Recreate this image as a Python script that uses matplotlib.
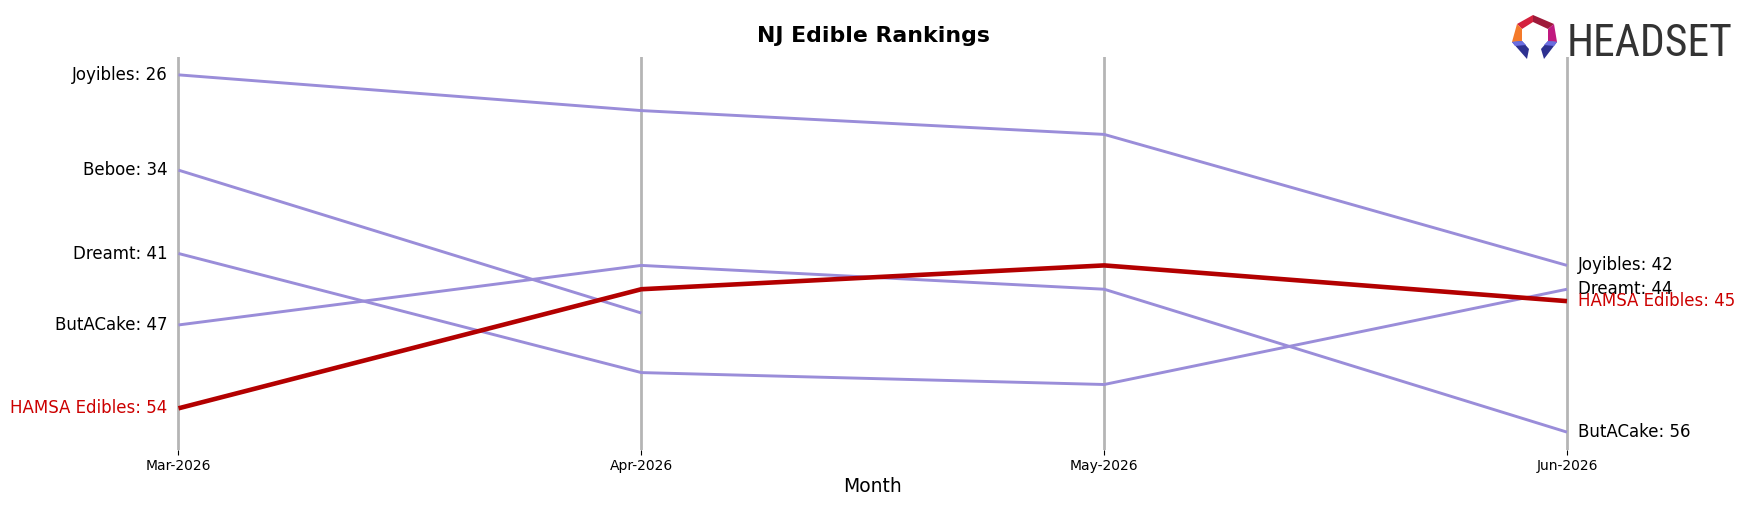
import numpy as np
import matplotlib
matplotlib.use("Agg")
import matplotlib.pyplot as plt
from matplotlib.patches import Polygon
import matplotlib.transforms as mtransforms
from matplotlib import font_manager as fm

months = ["Mar-2026", "Apr-2026", "May-2026", "Jun-2026"]
brands = ["Joyibles", "Beboe", "Dreamt", "ButACake", "HAMSA Edibles"]
joyibles = [26, 29, 31, 42]
beboe = [34, 46, np.nan, np.nan]
dreamt = [41, 51, 52, 44]
butacake = [47, 42, 44, 56]
hamsa = [54, 44, 42, 45]
series = [joyibles, beboe, dreamt, butacake, hamsa]
highlight = "HAMSA Edibles"

W, H = 1749, 507
fig = plt.figure(figsize=(W / 100, H / 100), dpi=100)

x = np.arange(len(months))
xpad = 0.02
unit = (1567 - 178.5) / 3
left_px = 178.5 - xpad * unit
right_px = 1567 + xpad * unit
top_px, bot_px = 57, 450
ax = fig.add_axes([left_px / W, 1 - bot_px / H, (right_px - left_px) / W, (bot_px - top_px) / H])

purple = "#9a8dd9"
red_line = "#b30000"
red_text = "#cc0000"

for xi in x:
    ax.axvline(xi, color="#b5b5b5", lw=2.0, zorder=1)

for name, vals in zip(brands, series):
    vals = np.array(vals, dtype=float)
    if name == highlight:
        ax.plot(x, vals, color=red_line, lw=3.3, zorder=4, solid_capstyle="butt")
    else:
        ax.plot(x, vals, color=purple, lw=2.1, zorder=3, solid_capstyle="butt")

off_l = mtransforms.offset_copy(ax.transData, fig=fig, x=-11, y=0, units="dots")
off_r = mtransforms.offset_copy(ax.transData, fig=fig, x=11, y=0, units="dots")
for name, vals in zip(brands, series):
    c = red_text if name == highlight else "black"
    first = vals[0]
    if not np.isnan(first):
        ax.text(x[0], first, f"{name}: {int(first)}", transform=off_l, ha="right", va="center",
                fontsize=12, color=c, zorder=5)
    last = vals[-1]
    if not np.isnan(last):
        ax.text(x[-1], last, f"{name}: {int(last)}", transform=off_r, ha="left", va="center",
                fontsize=12, color=c, zorder=5)

ax.set_xlim(-xpad, 3 + xpad)
ax.set_ylim(57.5, 24.5)
ax.set_xticks(x)
ax.set_xticklabels(months, fontsize=10)
ax.set_yticks([])
ax.tick_params(axis="x", length=3.5, width=0.8, pad=3)
for s in ax.spines.values():
    s.set_visible(False)

fig.text(873 / W, 1 - 487 / H, "Month", ha="center", va="center", fontsize=13.5)
fig.text(873 / W, 1 - 36 / H, "NJ Edible Rankings", ha="center", va="center", fontsize=15.8,
         fontweight="bold")

# Logo
def P(pts, color):
    xy = [(px / W, 1 - py / H) for px, py in pts]
    fig.patches.append(Polygon(xy, closed=True, transform=fig.transFigure, facecolor=color,
                               edgecolor="none"))

P([(1517, 24), (1533, 15), (1533, 22), (1522, 29)], "#d4213d")
P([(1533, 15), (1554, 24), (1548, 29), (1533, 22)], "#9e1a3a")
P([(1517, 24), (1522, 29), (1522, 41), (1512, 42)], "#f47a2a")
P([(1554, 24), (1557, 42), (1548, 41), (1548, 29)], "#c0197f")
P([(1512, 42), (1522, 41), (1529, 49), (1527, 59)], "#2e3190")
P([(1557, 42), (1548, 41), (1541, 49), (1544, 59)], "#2e3190")
P([(1512, 42), (1522, 41), (1526, 45), (1515, 46)], "#6a6de0")
P([(1557, 42), (1548, 41), (1544, 45), (1554, 46)], "#6a6de0")

names = {f.name for f in fm.fontManager.ttflist}
logo_kw = dict(family="DejaVu Sans", fontstretch="condensed")
for cand in ["Roboto Condensed", "Liberation Sans Narrow", "Open Sans Condensed"]:
    if cand in names:
        logo_kw = dict(family=cand)
        break
logo = fig.text(1567 / W, 1 - 56 / H, "HEADSET", ha="left", va="baseline", fontsize=30,
                color="#333333", **logo_kw)
renderer = fig.canvas.get_renderer()
bb = logo.get_window_extent(renderer=renderer)
logo.set_fontsize(30 * 166.0 / bb.width)

fig.savefig("out.png", dpi=100, facecolor="white")
